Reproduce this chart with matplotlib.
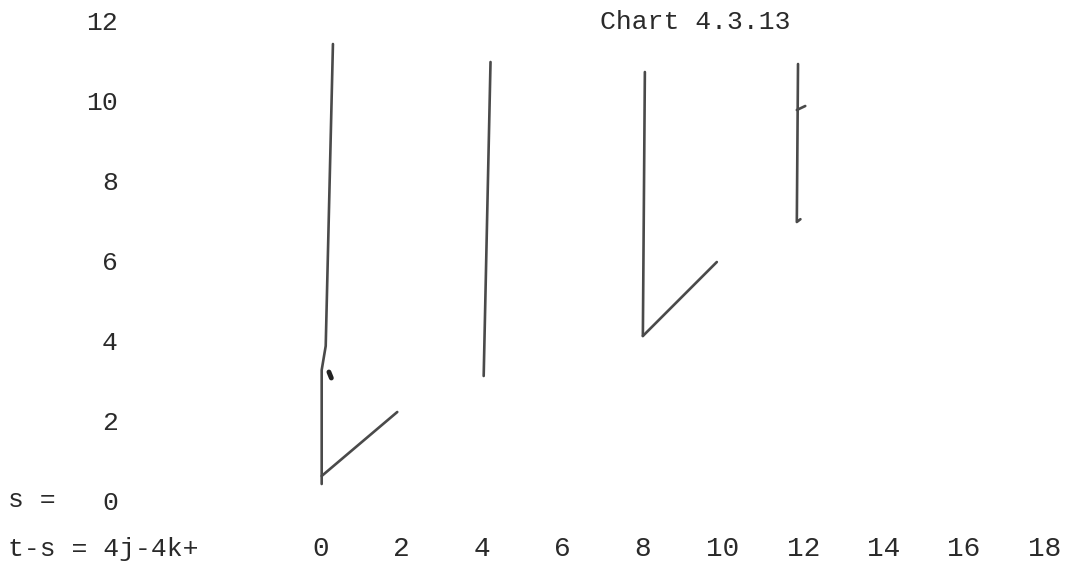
import matplotlib
matplotlib.use("Agg")
import matplotlib.pyplot as plt

# axis labels (typewritten)
x_ticks = [0, 2, 4, 6, 8, 10, 12, 14, 16, 18]
y_ticks = [0, 2, 4, 6, 8, 10, 12]
title = "Chart 4.3.13"

# hand drawn strokes, in chart units (t-s, s)
stroke_a_x = [0.30, 0.12, 0.02, 0.02]
stroke_a_y = [11.4, 3.85, 3.25, 0.4]
diag_a_x = [0.02, 1.9]
diag_a_y = [0.6, 2.2]
stroke_b_x = [4.22, 4.05]
stroke_b_y = [10.95, 3.1]
stroke_c_x = [8.06, 8.01]
stroke_c_y = [10.7, 4.1]
diag_c_x = [8.01, 9.85]
diag_c_y = [4.1, 5.95]
stroke_d_x = [11.87, 11.84, 11.93]
stroke_d_y = [10.9, 6.95, 7.02]
tick_d_x = [11.84, 12.05]
tick_d_y = [9.75, 9.85]
hook_x = [0.2, 0.26]
hook_y = [3.2, 3.05]

W, H = 1079, 588
fig = plt.figure(figsize=(W / 100, H / 100), dpi=100)
ax = fig.add_axes([140 / W, 58 / H, 1 - 140 / W, 520 / H])

ink = "#4a4a4a"
for xs, ys in [(stroke_a_x, stroke_a_y), (diag_a_x, diag_a_y),
               (stroke_b_x, stroke_b_y), (stroke_c_x, stroke_c_y),
               (diag_c_x, diag_c_y), (stroke_d_x, stroke_d_y),
               (tick_d_x, tick_d_y)]:
    ax.plot(xs, ys, color=ink, lw=1.9, solid_capstyle="round")
ax.plot(hook_x, hook_y, color="#222222", lw=3.5, solid_capstyle="round")

ax.set_xlim(-4.5, 18.86)
ax.set_ylim(-0.75, 12.25)

mono = "Liberation Mono"
txt = "#2a2a2a"
ax.set_xticks(x_ticks)
ax.set_xticklabels([str(v) for v in x_ticks], family=mono, fontsize=20, color=txt)
ax.set_yticks(y_ticks)
ax.set_yticklabels([str(v) for v in y_ticks], family=mono, fontsize=19, color=txt)
ax.tick_params(axis="x", length=0, pad=4)
ax.tick_params(axis="y", length=0, pad=16)
for sp in ax.spines.values():
    sp.set_visible(False)

fig.text(8 / W, 1 - 500 / H, "s =", family=mono, fontsize=19, color=txt,
         ha="left", va="center")
fig.text(8 / W, 1 - 549 / H, "t-s = 4j-4k+", family=mono, fontsize=19, color=txt,
         ha="left", va="center")
fig.text(600 / W, 1 - 22 / H, title, family=mono, fontsize=19, color=txt,
         ha="left", va="center")

fig.savefig("out.png", dpi=100, facecolor="white")
